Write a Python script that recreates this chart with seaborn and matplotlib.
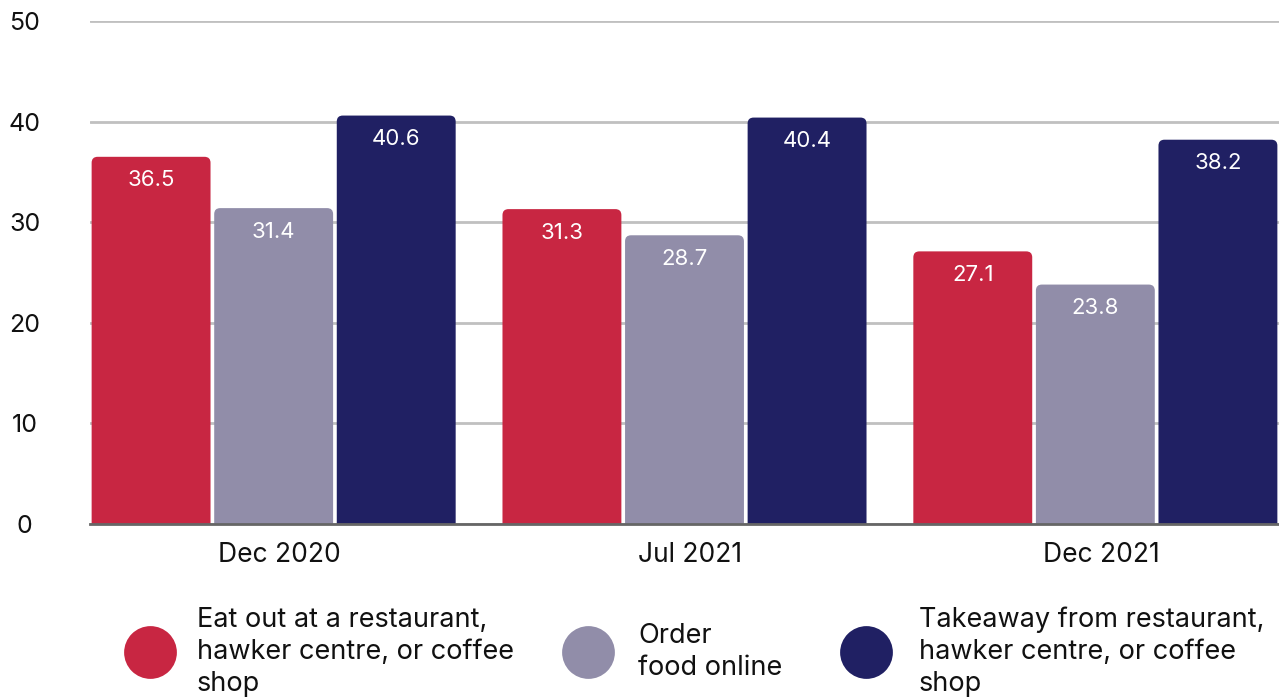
import numpy as np
import pandas as pd
import seaborn as sns
import matplotlib.pyplot as plt
from matplotlib.path import Path
from matplotlib.patches import PathPatch
from matplotlib.lines import Line2D
from matplotlib.transforms import ScaledTranslation

# Share of respondents (%) by dining mode and survey period
periods = ["Dec 2020", "Jul 2021", "Dec 2021"]
modes = [
    "Eat out at a restaurant,\nhawker centre, or coffee\nshop",
    "Order\nfood online",
    "Takeaway from restaurant,\nhawker centre, or coffee\nshop",
]
eat_out = [36.5, 31.3, 27.1]
order_online = [31.4, 28.7, 23.8]
takeaway = [40.6, 40.4, 38.2]
colors = ["#C82642", "#918DA9", "#202063"]
y_ticks = [0, 10, 20, 30, 40, 50]

df = pd.DataFrame({
    "period": periods * 3,
    "mode": [modes[0]] * 3 + [modes[1]] * 3 + [modes[2]] * 3,
    "value": eat_out + order_online + takeaway,
})

sns.set_theme(style="white")
plt.rcParams["font.family"] = ["Inter", "DejaVu Sans"]

fig = plt.figure(figsize=(12.79, 6.99), dpi=100)
ax = fig.add_axes([90 / 1279, 1 - 524 / 699, 1 - 90 / 1279, (524 - 21) / 699])

sns.barplot(data=df, x="period", y="value", hue="mode", hue_order=modes,
            order=periods, palette=colors, width=0.895, gap=0.03,
            saturation=1, legend=False, ax=ax)

ax.set_xlim(-0.447, 2.447)
ax.set_ylim(0, 50)
ax.set_yticks(y_ticks)

# Round the top corners of every bar
fig.canvas.draw()
px_x = ax.transData.transform((1, 0))[0] - ax.transData.transform((0, 0))[0]
px_y = ax.transData.transform((0, 1))[1] - ax.transData.transform((0, 0))[1]
rx, ry = 6 / px_x, 6 / px_y
bars = list(ax.patches)
for p in bars:
    x0, w, h = p.get_x(), p.get_width(), p.get_height()
    x1 = x0 + w
    col = p.get_facecolor()
    p.remove()
    verts = [(x0, 0), (x0, h - ry), (x0, h), (x0 + rx, h), (x1 - rx, h),
             (x1, h), (x1, h - ry), (x1, 0), (x0, 0)]
    codes = [Path.MOVETO, Path.LINETO, Path.CURVE3, Path.CURVE3, Path.LINETO,
             Path.CURVE3, Path.CURVE3, Path.LINETO, Path.CLOSEPOLY]
    ax.add_patch(PathPatch(Path(verts, codes), facecolor=col, edgecolor="none", zorder=2))
    ax.annotate(f"{h:.1f}", (x0 + w / 2, h), xytext=(0, -17), textcoords="offset points",
                ha="center", va="center", color="white", fontsize=16, zorder=3)

# Grid and axes styling
ax.grid(axis="y", color="#C0C0C0", linewidth=2, zorder=0)
ax.set_axisbelow(True)
for s in ["top", "right", "left"]:
    ax.spines[s].set_visible(False)
ax.spines["bottom"].set_color("#666666")
ax.spines["bottom"].set_linewidth(2)
ax.spines["bottom"].set_zorder(4)
ax.set_xlabel("")
ax.set_ylabel("")
ax.tick_params(axis="y", length=0, pad=47, labelsize=18, labelcolor="#111111")
ax.tick_params(axis="x", length=0, pad=13, labelsize=19, labelcolor="#111111")
for lbl in ax.get_yticklabels():
    lbl.set_horizontalalignment("center")
shift = ScaledTranslation(6 / 100, 0, fig.dpi_scale_trans)
for lbl in ax.get_xticklabels():
    lbl.set_transform(lbl.get_transform() + shift)

# Legend below the plot
leg_marker_x = [150, 588, 866]
leg_text_x = [197, 638, 919]
leg_y = 652
for mx, tx, lab, col in zip(leg_marker_x, leg_text_x, modes, colors):
    fig.add_artist(Line2D([mx / 1279], [1 - leg_y / 699], marker="o", markersize=38,
                          color=col, markeredgewidth=0, linestyle="none",
                          transform=fig.transFigure))
    fig.text(tx / 1279, 1 - leg_y / 699, lab, ha="left", va="center",
             fontsize=19.5, linespacing=1.31, color="#111111")

fig.savefig("out.png", dpi=100)
